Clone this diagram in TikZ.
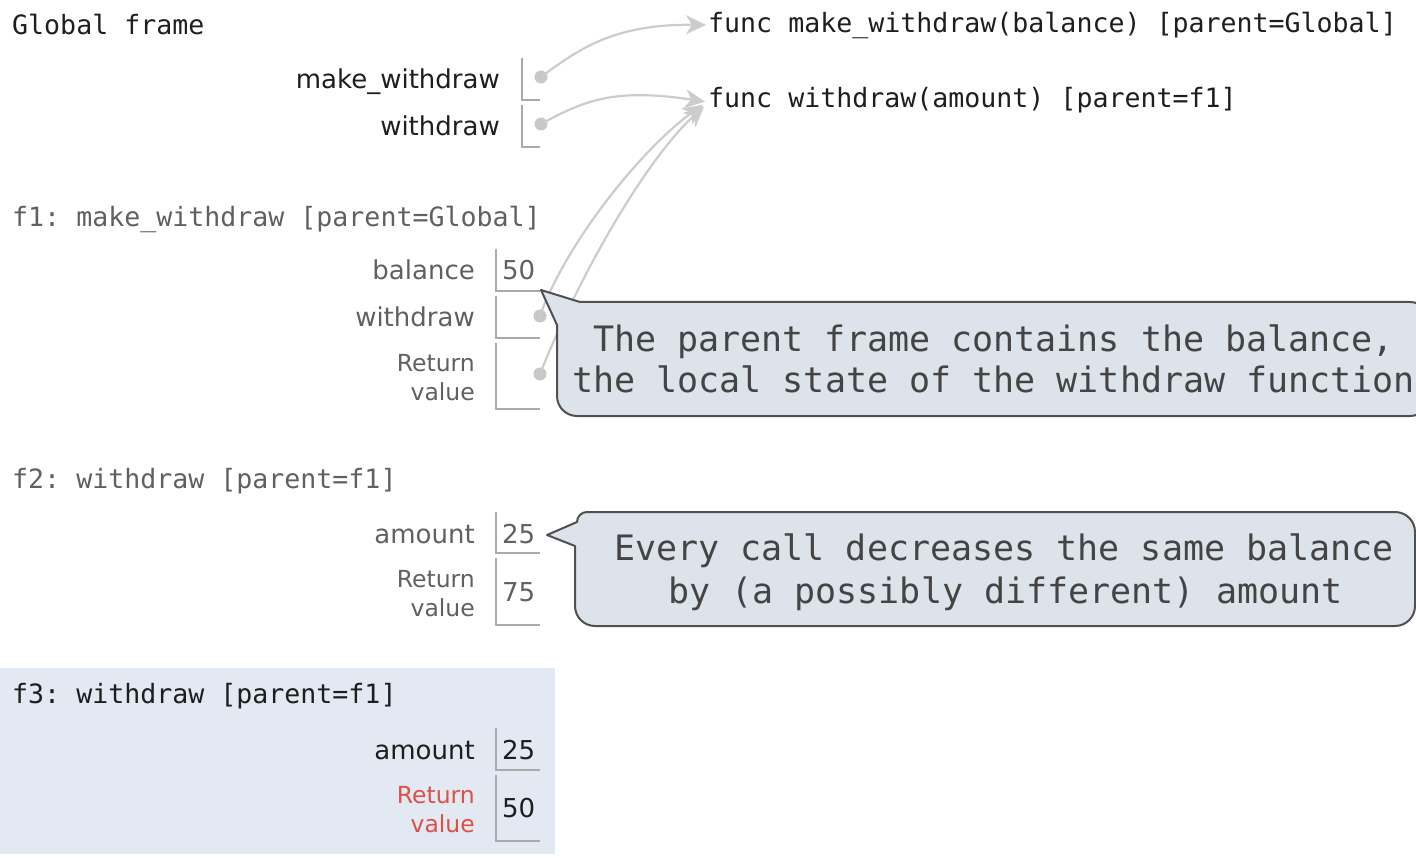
\documentclass[tikz,border=0pt]{standalone}
\usepackage{fontspec}
\setmainfont{DejaVu Sans}
\setmonofont{DejaVu Sans Mono}
\usetikzlibrary{arrows.meta}
\definecolor{activetxt}{HTML}{1E1E1E}
\definecolor{inactivetxt}{HTML}{606060}
\definecolor{boxgray}{HTML}{AAAAAA}
\definecolor{ptrgray}{HTML}{CCCCCC}
\definecolor{dotgray}{HTML}{C8C8C8}
\definecolor{retred}{HTML}{DD5144}
\definecolor{frameblue}{HTML}{E2E9F2}
\definecolor{calloutfill}{HTML}{DCE3EB}
\definecolor{calloutdraw}{HTML}{505050}
\definecolor{callouttxt}{HTML}{444444}
\begin{document}
\begin{tikzpicture}[x=1pt,y=1pt,
  ftitle/.style={anchor=base west,inner sep=0pt,font=\ttfamily\fontsize{26.6}{30}\selectfont},
  functxt/.style={anchor=base west,inner sep=0pt,text=activetxt,font=\ttfamily\fontsize{26.6}{30}\selectfont},
  varlbl/.style={anchor=base east,inner sep=0pt,font=\fontsize{26}{30}\selectfont},
  retlbl/.style={anchor=base east,inner sep=0pt,font=\fontsize{23.5}{28}\selectfont},
  valtxt/.style={anchor=base west,inner sep=0pt,font=\fontsize{26}{30}\selectfont},
  boxline/.style={draw=boxgray,line width=1.4pt},
  dotnode/.style={circle,fill=dotgray,inner sep=0pt,minimum size=13pt},
  ptr/.style={draw=ptrgray,line width=2.2pt,-{Stealth[length=20pt,width=19pt,inset=6pt]}},
  callout/.style={fill=calloutfill,draw=calloutdraw,line width=2pt,line join=round},
  calltxt/.style={anchor=base west,inner sep=0pt,text=callouttxt,font=\ttfamily\fontsize{35}{40}\selectfont}
]
\useasboundingbox (0,0) rectangle (1416,-858);

% f3 highlighted background
\fill[frameblue] (0,-668) rectangle (555,-854);

% ---------- Global frame ----------
\node[ftitle,text=activetxt] (gtitle) at (12,-35) {Global frame};
\node[varlbl,text=activetxt] (gmw) at (500,-89) {make\_withdraw};
\node[varlbl,text=activetxt] (gw) at (500,-136) {withdraw};
\draw[boxline] (522,-58) -- (522,-100) -- (540,-100);
\draw[boxline] (522,-105) -- (522,-147) -- (540,-147);
\node[dotnode] (dmw) at (541,-77) {};
\node[dotnode] (dgw) at (541,-124) {};

% function objects
\node[functxt] (fn1) at (708,-33) {func make\_withdraw(balance) [parent=Global]};
\node[functxt] (fn2) at (708,-108) {func withdraw(amount) [parent=f1]};

% ---------- f1 ----------
\node[ftitle,text=inactivetxt] (f1title) at (12,-227) {f1: make\_withdraw [parent=Global]};
\node[varlbl,text=inactivetxt] (f1bal) at (475,-280) {balance};
\node[valtxt,text=inactivetxt] (f1balv) at (502,-280) {50};
\node[varlbl,text=inactivetxt] (f1w) at (475,-327) {withdraw};
\node[retlbl,text=inactivetxt] (f1ra) at (475,-371) {Return};
\node[retlbl,text=inactivetxt] (f1rb) at (475,-400) {value};
\draw[boxline] (496,-249) -- (496,-291) -- (540,-291);
\draw[boxline] (496,-296) -- (496,-338) -- (540,-338);
\draw[boxline] (496,-343) -- (496,-409) -- (540,-409);
\node[dotnode] (df1w) at (540,-316) {};
\node[dotnode] (df1r) at (540,-374) {};

% ---------- f2 ----------
\node[ftitle,text=inactivetxt] (f2title) at (12,-488) {f2: withdraw [parent=f1]};
\node[varlbl,text=inactivetxt] (f2am) at (475,-543) {amount};
\node[valtxt,text=inactivetxt] (f2amv) at (502,-543) {25};
\node[retlbl,text=inactivetxt] (f2ra) at (475,-587) {Return};
\node[retlbl,text=inactivetxt] (f2rb) at (475,-616) {value};
\node[valtxt,text=inactivetxt] (f2rv) at (502,-601) {75};
\draw[boxline] (496,-512) -- (496,-553) -- (540,-553);
\draw[boxline] (496,-558) -- (496,-625) -- (540,-625);

% ---------- f3 ----------
\node[ftitle,text=activetxt] (f3title) at (12,-703) {f3: withdraw [parent=f1]};
\node[varlbl,text=activetxt] (f3am) at (475,-759) {amount};
\node[valtxt,text=activetxt] (f3amv) at (502,-759) {25};
\node[retlbl,text=retred] (f3ra) at (475,-803) {Return};
\node[retlbl,text=retred] (f3rb) at (475,-832) {value};
\node[valtxt,text=activetxt] (f3rv) at (502,-817) {50};
\draw[boxline] (496,-728) -- (496,-770) -- (540,-770);
\draw[boxline] (496,-775) -- (496,-841) -- (540,-841);

% ---------- pointers ----------
\draw[ptr] (dmw.center) .. controls (580,-48) and (615,-24) .. ([xshift=-2pt,yshift=1pt]fn1.west);
\draw[ptr] (dgw.center) .. controls (585,-100) and (615,-88) .. ([xshift=-3pt,yshift=-1pt]fn2.west);
\draw[ptr] (df1w.center) .. controls (565,-245) and (640,-150) .. ([xshift=-5pt,yshift=-4pt]fn2.west);
\draw[ptr] (df1r.center) .. controls (577,-280) and (645,-160) .. ([xshift=-4pt,yshift=-6pt]fn2.west);

% ---------- callouts ----------
\draw[callout] (541,-290) -- (580,-302) -- (1410,-302) arc(90:0:20) -- (1430,-396) arc(0:-90:20)
  -- (577,-416) arc(270:180:20) -- (557,-325) -- cycle;
\node[calltxt] (c1a) at (593,-352) {The parent frame contains the balance,};
\node[calltxt] (c1b) at (572,-392) {the local state of the withdraw function};

\draw[callout] (547,-535) -- (577,-522) arc(180:90:10) -- (1395,-512) arc(90:0:20) -- (1415,-606) arc(0:-90:20)
  -- (595,-626) arc(270:180:20) -- (575,-546) -- cycle;
\node[calltxt] (c2a) at (614,-560) {Every call decreases the same balance};
\node[calltxt] (c2b) at (668,-603) {by (a possibly different) amount};
\end{tikzpicture}
\end{document}
